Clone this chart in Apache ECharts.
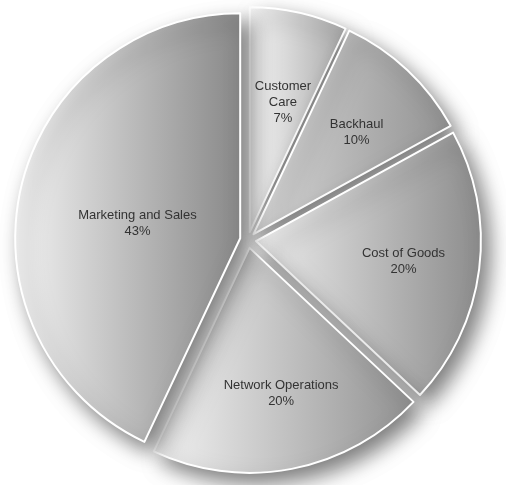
<!DOCTYPE html>
<html>
<head>
<meta charset="utf-8">
<script src="https://cdn.jsdelivr.net/npm/echarts@6/dist/echarts.min.js"></script>
<style>
html,body{margin:0;padding:0;background:#fff;}
#chart{width:506px;height:485px;}
</style>
</head>
<body>
<div id="chart"></div>
<script>
// Data
var categories = ['Customer Care', 'Backhaul', 'Cost of Goods', 'Network Operations', 'Marketing and Sales'];
var values = [7, 10, 20, 20, 43];
var labelTexts = ['Customer\nCare\n7%', 'Backhaul\n10%', 'Cost of Goods\n20%', 'Network Operations\n20%', 'Marketing and Sales\n43%'];

// Styles (not data)
var gradLeft  = ['#f8f8f8', '#d6d6d6', '#eeeeee', '#f4f4f4', '#f2f2f2'];
var gradRight = ['#a8a8a8', '#929292', '#8c8c8c', '#909090', '#888888'];
var labelNudge = [[8, -17], [24, -18], [33, 6], [10, 32], [10, 10]];

var chart = echarts.init(document.getElementById('chart'));

var seriesData = categories.map(function (name, i) {
  return {
    name: name,
    value: values[i],
    selected: true,
    itemStyle: {
      color: new echarts.graphic.LinearGradient(0, 0, 1, 0, [
        { offset: 0, color: gradLeft[i] },
        { offset: 1, color: gradRight[i] }
      ])
    },
    label: { formatter: labelTexts[i] }
  };
});

chart.setOption({
  backgroundColor: '#ffffff',
  animation: false,
  series: [{
    type: 'pie',
    center: [248, 240],
    radius: [0, 225],
    startAngle: 90,
    clockwise: true,
    selectedMode: 'multiple',
    selectedOffset: 8,
    avoidLabelOverlap: false,
    itemStyle: {
      borderColor: '#ffffff',
      borderWidth: 2,
      shadowBlur: 20,
      shadowOffsetX: 8,
      shadowOffsetY: 10,
      shadowColor: 'rgba(0,0,0,0.5)'
    },
    emphasis: { disabled: true, scale: false },
    select: { disabled: false },
    label: {
      show: true,
      position: 'inside',
      color: '#333333',
      fontFamily: 'Liberation Sans, Arial, sans-serif',
      fontSize: 13,
      lineHeight: 16,
      align: 'center'
    },
    labelLine: { show: false },
    labelLayout: function (params) {
      var n = labelNudge[params.dataIndex];
      return { dx: n[0], dy: n[1] };
    },
    data: seriesData
  }]
});
</script>
</body>
</html>
